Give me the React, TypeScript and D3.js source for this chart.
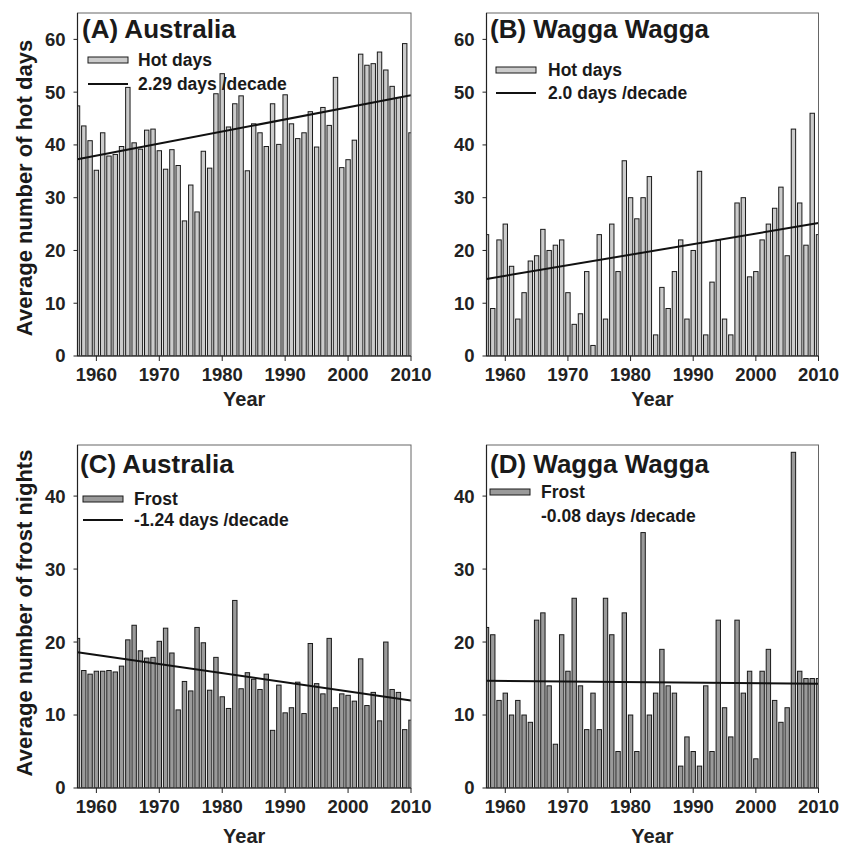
import React from "react";
import * as d3 from "d3";

const years = d3.range(1957, 2011);
const xTicks = [1960, 1970, 1980, 1990, 2000, 2010];
const yTicksHot = [0, 10, 20, 30, 40, 50, 60];
const yTicksFrost = [0, 10, 20, 30, 40];

const hotAustralia = [
  47.4, 43.6, 40.8, 35.2, 42.3, 37.9, 38.2, 39.7, 50.9, 40.4,
  39.2, 42.8, 43.0, 38.9, 35.4, 39.1, 36.1, 25.6, 32.4, 27.3,
  38.8, 35.6, 49.7, 53.5, 43.4, 47.8, 49.3, 35.1, 44.0, 42.3,
  39.7, 47.8, 40.1, 49.5, 44.0, 41.2, 42.3, 46.3, 39.6, 47.1,
  43.7, 52.8, 35.7, 37.2, 40.9, 57.2, 55.1, 55.4, 57.6, 54.2,
  51.1, 49.0, 59.2, 42.3,
];
const hotWagga = [
  23, 9, 22, 25, 17, 7, 12, 18, 19, 24,
  20, 21, 22, 12, 6, 8, 16, 2, 23, 7,
  25, 16, 37, 30, 26, 30, 34, 4, 13, 9,
  16, 22, 7, 20, 35, 4, 14, 22, 7, 4,
  29, 30, 15, 16, 22, 25, 28, 32, 19, 43,
  29, 21, 46, 23,
];
const frostAustralia = [
  20.5, 16.1, 15.6, 16.0, 16.0, 16.1, 15.9, 16.7, 20.3, 22.3,
  18.8, 17.8, 17.9, 20.1, 21.9, 18.5, 10.7, 14.6, 13.3, 22.0,
  19.9, 13.4, 17.9, 12.5, 10.9, 25.7, 13.6, 15.8, 14.9, 13.5,
  15.6, 7.9, 14.1, 10.3, 11.0, 14.5, 10.2, 19.8, 14.3, 12.9,
  20.5, 11.0, 12.9, 12.7, 11.9, 17.7, 11.3, 13.1, 9.2, 20.0,
  13.5, 13.1, 8.0, 9.3,
];
const frostWagga = [
  22, 21, 12, 13, 10, 12, 10, 9, 23, 24,
  14, 6, 21, 16, 26, 14, 8, 13, 8, 26,
  21, 5, 24, 10, 5, 35, 10, 13, 19, 14,
  13, 3, 7, 5, 3, 14, 5, 23, 11, 7,
  23, 13, 16, 4, 16, 19, 12, 9, 11, 46,
  16, 15, 15, 15,
];
// trend line values at first and last year
const trendHotAustralia = [37.3, 49.4];
const trendHotWagga = [14.6, 25.2];
const trendFrostAustralia = [18.6, 12.0];
const trendFrostWagga = [14.7, 14.3];

const FONT = "'Liberation Sans', Arial, Helvetica, sans-serif";

type PanelProps = {
  id: string;
  x0: number; x1: number; yTop: number; yBottom: number; yMax: number;
  values: number[]; trend: number[]; yTicks: number[];
  fill: string; title: string; titleX: number; titleY: number;
  legendLabel: string; trendLabel: string;
  swatchX: number; textX: number;
  row1Y: number; row2Y: number; showLine: boolean;
  yearY: number;
};

function Panel(p: PanelProps) {
  const x = d3.scaleLinear().domain([1957, 2010]).range([p.x0, p.x1]);
  const y = d3.scaleLinear().domain([0, p.yMax]).range([p.yBottom, p.yTop]);
  const step = x(1958) - x(1957);
  const bw = step * 0.7;
  const line = d3.line<number>()
    .x((_, i) => x(i === 0 ? 1957 : 2010))
    .y((d) => y(d));
  const clipId = "clip-" + p.id;
  return (
    <g>
      <defs>
        <clipPath id={clipId}>
          <rect x={p.x0} y={p.yTop} width={p.x1 - p.x0} height={p.yBottom - p.yTop} />
        </clipPath>
      </defs>
      <g clipPath={`url(#${clipId})`}>
        {years.map((yr, i) => (
          <rect key={yr} x={x(yr) - bw / 2} y={y(p.values[i])} width={bw}
            height={y(0) - y(p.values[i])} fill={p.fill} stroke="#1a1a1a" strokeWidth={1} />
        ))}
        <path d={line(p.trend) || ""} stroke="#111" strokeWidth={2} fill="none" />
      </g>
      <rect x={p.x0} y={p.yTop} width={p.x1 - p.x0} height={p.yBottom - p.yTop}
        fill="none" stroke="#666" strokeWidth={1} />
      <line x1={p.x0} x2={p.x0} y1={p.yTop} y2={p.yBottom} stroke="#222" strokeWidth={1.2} />
      <line x1={p.x0} x2={p.x1} y1={p.yBottom} y2={p.yBottom} stroke="#222" strokeWidth={1.2} />
      {p.yTicks.map((t) => (
        <g key={t}>
          <line x1={p.x0 - 4} x2={p.x0} y1={y(t)} y2={y(t)} stroke="#222" />
          <text x={p.x0 - 12} y={y(t)} dy="0.35em" textAnchor="end"
            fontFamily={FONT} fontWeight="bold" fontSize={18.5} fill="#222">{t}</text>
        </g>
      ))}
      {xTicks.map((t) => (
        <g key={t}>
          <line x1={x(t)} x2={x(t)} y1={p.yBottom} y2={p.yBottom + 5} stroke="#222" />
          <text x={x(t)} y={p.yBottom + 25} textAnchor="middle"
            fontFamily={FONT} fontWeight="bold" fontSize={18.5} fill="#222">{t}</text>
        </g>
      ))}
      <text x={(p.x0 + p.x1) / 2} y={p.yearY} textAnchor="middle"
        fontFamily={FONT} fontWeight="bold" fontSize={20} fill="#222">Year</text>
      <text x={p.titleX} y={p.titleY} fontFamily={FONT} fontWeight="bold" fontSize={26} fill="#1a1a1a">{p.title}</text>
      <rect x={p.swatchX} y={p.row1Y - 3} width={40} height={6} fill={p.fill} stroke="#1a1a1a" strokeWidth={1} />
      <text x={p.textX} y={p.row1Y} dy="0.36em" fontFamily={FONT} fontWeight="bold" fontSize={17.5} fill="#1a1a1a">{p.legendLabel}</text>
      {p.showLine && (
        <line x1={p.swatchX} x2={p.swatchX + 40} y1={p.row2Y} y2={p.row2Y} stroke="#111" strokeWidth={2} />
      )}
      <text x={p.textX} y={p.row2Y} dy="0.36em" fontFamily={FONT} fontWeight="bold" fontSize={17.5} fill="#1a1a1a">{p.trendLabel}</text>
    </g>
  );
}

export default function App() {
  const hotFill = "#cbcbcb";
  const frostFill = "#9a9a9a";
  return (
    <svg width={841} height={847} style={{ position: "absolute", left: 0, top: 0 }}>
      <rect width={841} height={847} fill="#fff" />
      <Panel id="a" x0={77.5} x1={411} yTop={13} yBottom={356} yMax={65}
        values={hotAustralia} trend={trendHotAustralia} yTicks={yTicksHot} fill={hotFill}
        title="(A) Australia" titleX={82} titleY={38}
        legendLabel="Hot days" trendLabel="2.29 days /decade"
        swatchX={88} textX={138} row1Y={60} row2Y={84} showLine={true} yearY={406} />
      <Panel id="b" x0={486.5} x1={818.5} yTop={13} yBottom={356} yMax={65}
        values={hotWagga} trend={trendHotWagga} yTicks={yTicksHot} fill={hotFill}
        title="(B) Wagga Wagga" titleX={490} titleY={38}
        legendLabel="Hot days" trendLabel="2.0 days /decade"
        swatchX={496} textX={548} row1Y={70} row2Y={93} showLine={true} yearY={406} />
      <Panel id="c" x0={77.5} x1={411} yTop={445} yBottom={788} yMax={47}
        values={frostAustralia} trend={trendFrostAustralia} yTicks={yTicksFrost} fill={frostFill}
        title="(C) Australia" titleX={80} titleY={473}
        legendLabel="Frost" trendLabel="-1.24 days /decade"
        swatchX={83} textX={134} row1Y={499} row2Y={520} showLine={true} yearY={843} />
      <Panel id="d" x0={486.5} x1={818.5} yTop={445} yBottom={788} yMax={47}
        values={frostWagga} trend={trendFrostWagga} yTicks={yTicksFrost} fill={frostFill}
        title="(D) Wagga Wagga" titleX={490} titleY={473}
        legendLabel="Frost" trendLabel="-0.08 days /decade"
        swatchX={490} textX={541} row1Y={492} row2Y={516} showLine={false} yearY={843} />
      <text transform="translate(32,188) rotate(-90)" textAnchor="middle"
        fontFamily={FONT} fontWeight="bold" fontSize={22} fill="#1a1a1a">Average number of hot days</text>
      <text transform="translate(32,613) rotate(-90)" textAnchor="middle"
        fontFamily={FONT} fontWeight="bold" fontSize={22} fill="#1a1a1a">Average number of frost nights</text>
    </svg>
  );
}
